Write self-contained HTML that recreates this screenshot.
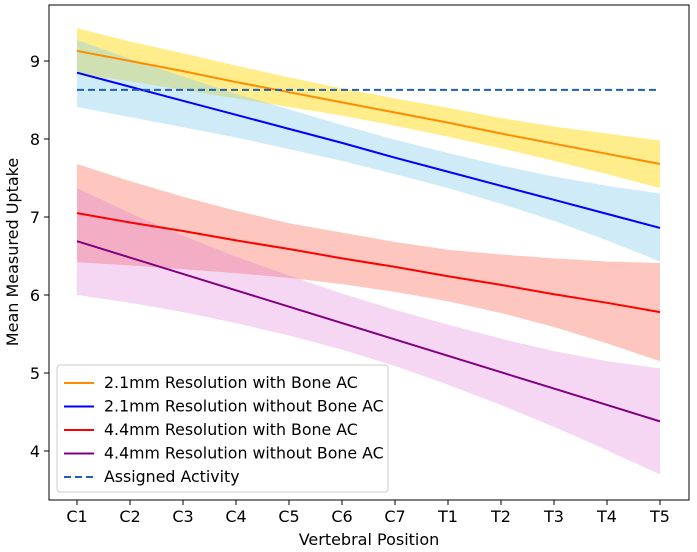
<!DOCTYPE html>
<html><head><meta charset="utf-8"><style>
body{margin:0;background:#fff}
svg{display:block;font-family:"DejaVu Sans","Liberation Sans",sans-serif}
</style></head><body>
<svg id="chart" width="697" height="552" viewBox="0 0 697 552"></svg>
<script>
const categories=["C1","C2","C3","C4","C5","C6","C7","T1","T2","T3","T4","T5"];
const yTicks=[4,5,6,7,8,9];
const orangeMean=[9.13,9.00,8.87,8.73,8.60,8.47,8.34,8.21,8.07,7.94,7.81,7.68];
const orangeUpper=[9.42,9.25,9.10,8.94,8.79,8.65,8.52,8.40,8.27,8.16,8.07,7.98];
const orangeLower=[8.84,8.74,8.63,8.52,8.41,8.30,8.17,8.03,7.88,7.72,7.55,7.37];
const blueMean=[8.85,8.67,8.49,8.31,8.13,7.95,7.76,7.58,7.40,7.22,7.04,6.86];
const blueUpper=[9.27,9.03,8.80,8.58,8.38,8.18,7.99,7.82,7.66,7.52,7.40,7.30];
const blueLower=[8.41,8.28,8.15,8.02,7.87,7.72,7.55,7.37,7.17,6.95,6.70,6.43];
const redMean=[7.05,6.93,6.82,6.70,6.59,6.47,6.36,6.24,6.13,6.01,5.90,5.78];
const redUpper=[7.68,7.46,7.26,7.08,6.92,6.80,6.68,6.58,6.52,6.47,6.43,6.41];
const redLower=[6.42,6.38,6.33,6.28,6.22,6.14,6.04,5.92,5.77,5.59,5.38,5.15];
const purpleMean=[6.69,6.48,6.27,6.06,5.85,5.64,5.43,5.22,5.01,4.80,4.59,4.38];
const purpleUpper=[7.37,7.05,6.76,6.49,6.25,6.02,5.81,5.62,5.44,5.28,5.15,5.06];
const purpleLower=[6.00,5.90,5.78,5.64,5.48,5.30,5.09,4.85,4.59,4.31,4.01,3.70];
const assignedActivity=[8.63];
const seriesLabels=["2.1mm Resolution with Bone AC","2.1mm Resolution without Bone AC","4.4mm Resolution with Bone AC","4.4mm Resolution without Bone AC","Assigned Activity"];

const NS="http://www.w3.org/2000/svg";
const svg=document.getElementById('chart');
const L=49,R=689,T=5,B=500;
const x=i=>77+i*(660-77)/(categories.length-1);
const y=v=>61+(9-v)*78;
function mk(tag,attrs,parent){const e=document.createElementNS(NS,tag);for(const k in attrs)e.setAttribute(k,attrs[k]);(parent||svg).appendChild(e);return e;}

const series=[
 {m:orangeMean,u:orangeUpper,l:orangeLower,line:"#ff8c00",fill:"#ffd700",op:0.45,n:"orange"},
 {m:blueMean,u:blueUpper,l:blueLower,line:"#0000ff",fill:"#87ceeb",op:0.4,n:"blue"},
 {m:redMean,u:redUpper,l:redLower,line:"#ff0000",fill:"#fa8072",op:0.45,n:"red"},
 {m:purpleMean,u:purpleUpper,l:purpleLower,line:"#800080",fill:"#da70d6",op:0.28,n:"purple"}
];
series.forEach(s=>{
 let d="M"+s.u.map((v,i)=>x(i)+","+y(v)).join(" L");
 for(let i=s.l.length-1;i>=0;i--)d+=" L"+x(i)+","+y(s.l[i]);
 const p=mk('path',{d:d+"Z",fill:s.fill,'fill-opacity':s.op});
 
 
});
series.forEach(s=>{
 const p=mk('polyline',{points:s.m.map((v,i)=>x(i)+","+y(v)).join(" "),fill:"none",stroke:s.line,'stroke-width':2});
 
 
});
const al=mk('line',{x1:x(0),x2:x(categories.length-1),y1:y(assignedActivity[0]),y2:y(assignedActivity[0]),stroke:"#1f5fb4",'stroke-width':2,'stroke-dasharray':"7,4"});



const frame=mk('rect',{x:L,y:T,width:R-L,height:B-T,fill:"none",stroke:"#000",'stroke-width':1});



categories.forEach((c,i)=>{
 mk('line',{x1:x(i),x2:x(i),y1:B,y2:B+5,stroke:"#000"});
 const t=mk('text',{x:x(i),y:B+22,'text-anchor':'middle','font-size':16,fill:'#000'});
 t.textContent=c;
 
 
});
yTicks.forEach(v=>{
 mk('line',{x1:L-5,x2:L,y1:y(v),y2:y(v),stroke:"#000"});
 const t=mk('text',{x:L-9,y:y(v)+6,'text-anchor':'end','font-size':16,fill:'#000'});
 t.textContent=v;
 
 
});
const xt=mk('text',{x:369,y:545,'text-anchor':'middle','font-size':16});
xt.textContent="Vertebral Position";


const yt=mk('text',{x:0,y:0,'text-anchor':'middle','font-size':16,transform:"translate(18,252) rotate(-90)"});
yt.textContent="Mean Measured Uptake";



const lg=mk('g',{});


mk('rect',{x:57,y:365,width:331,height:127,rx:3,fill:"#fff",'fill-opacity':0.85,stroke:"#ccc"},lg);
const lcolors=["#ff8c00","#0000ff","#ff0000","#800080","#1f5fb4"];
seriesLabels.forEach((s,i)=>{
 const yy=383+i*23.5;
 const ln=mk('line',{x1:64,x2:94,y1:yy,y2:yy,stroke:lcolors[i],'stroke-width':2},lg);
 if(i===4)ln.setAttribute('stroke-dasharray','7,4');
 const t=mk('text',{x:104,y:yy+5,'font-size':15.8},lg);
 t.textContent=s;
 
 
});
</script>
</body></html>
